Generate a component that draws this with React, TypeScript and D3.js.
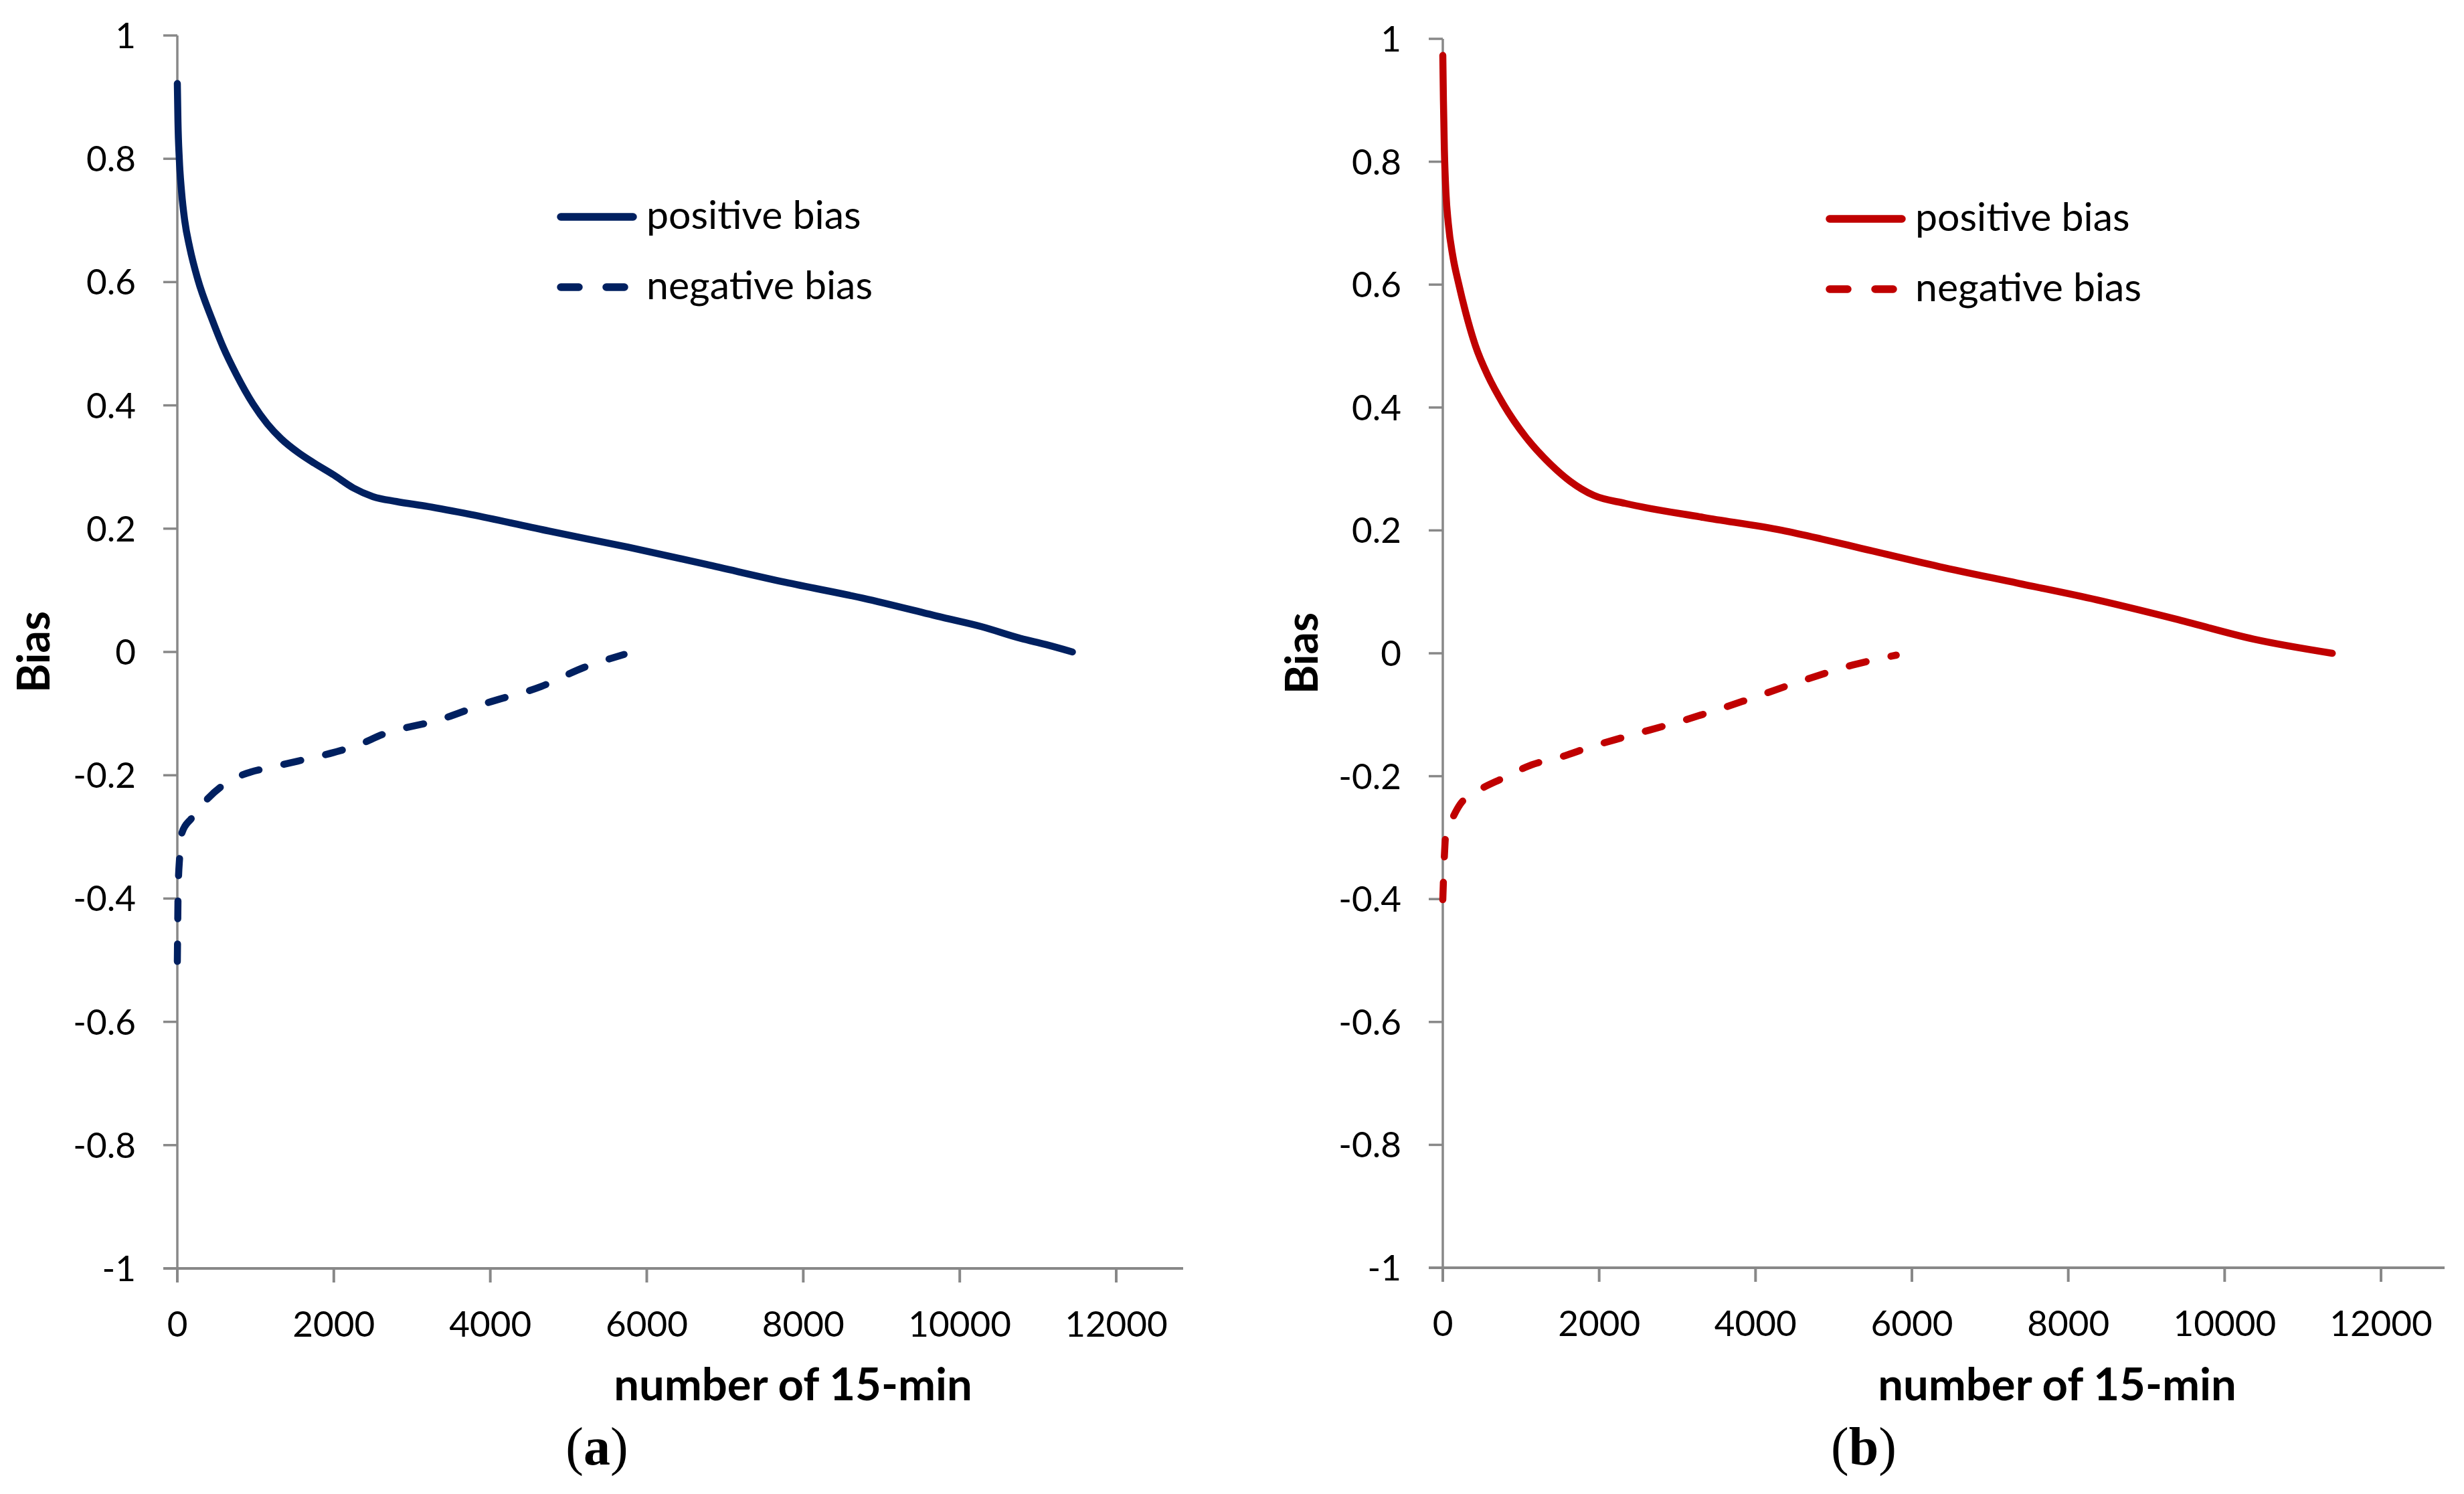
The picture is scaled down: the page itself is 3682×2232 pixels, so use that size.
import React from 'react';
import * as d3 from 'd3';

// x = number of 15-min intervals, y = bias
const leftPositive: [number, number][] = [
  [0, 0.922], [8, 0.86], [25, 0.8], [55, 0.745], [94, 0.7], [160, 0.655], [260, 0.605],
  [442, 0.54], [584, 0.495], [755, 0.45], [969, 0.402], [1150, 0.37], [1326, 0.346],
  [1550, 0.323], [1753, 0.306], [2000, 0.287], [2250, 0.266], [2500, 0.252], [2800, 0.244],
  [3200, 0.236], [3750, 0.223], [4750, 0.196], [5760, 0.17], [6760, 0.142], [7770, 0.113],
  [8770, 0.087], [9780, 0.056], [10280, 0.041], [10780, 0.022], [11100, 0.012], [11440, 0.0],
];
const leftNegative: [number, number][] = [
  [0, -0.502], [5, -0.44], [10, -0.387], [30, -0.332], [60, -0.293], [180, -0.27],
  [380, -0.239], [730, -0.205], [935, -0.195], [1200, -0.187], [1540, -0.177], [2000, -0.163],
  [2290, -0.152], [2640, -0.133], [3350, -0.11], [3950, -0.083], [4650, -0.056],
  [5200, -0.025], [5710, -0.004],
];
const rightPositive: [number, number][] = [
  [0, 0.973], [8, 0.9], [20, 0.82], [40, 0.75], [70, 0.7], [130, 0.645], [200, 0.603],
  [290, 0.556], [419, 0.5], [576, 0.452], [776, 0.405], [1061, 0.352], [1375, 0.308],
  [1628, 0.28], [1930, 0.257], [2332, 0.244], [3337, 0.221], [4342, 0.2], [4844, 0.186],
  [5347, 0.171], [6352, 0.141], [7357, 0.114], [8362, 0.087], [9367, 0.056], [10372, 0.023],
  [11377, 0.0],
];
const rightNegative: [number, number][] = [
  [0, -0.401], [20, -0.331], [40, -0.292], [121, -0.269], [221, -0.246], [422, -0.226],
  [774, -0.203], [1126, -0.182], [1528, -0.168], [1900, -0.152], [2332, -0.136],
  [3085, -0.109], [3839, -0.078], [4543, -0.047], [5246, -0.019], [5800, -0.003],
];

const xTicks = [0, 2000, 4000, 6000, 8000, 10000, 12000];
const yTicks = [-1, -0.8, -0.6, -0.4, -0.2, 0, 0.2, 0.4, 0.6, 0.8, 1];
const seriesNames = ['positive bias', 'negative bias'];
const xTitle = 'number of 15-min';
const yTitle = 'Bias';

const AXIS = '#888888';
const FONT = 'Lato, "Noto Sans", sans-serif';

interface PanelProps {
  x0: number; // pixel of x = 0
  x12: number; // pixel of x = 12000
  xEnd: number; // end of the x axis line
  yTop: number; // pixel of y = 1
  yBottom: number; // pixel of y = -1
  color: string;
  positive: [number, number][];
  negative: [number, number][];
  legendX: number;
  legendY: number;
  titleX: number;
  biasX: number;
  letter: string;
  letterX: number;
}

const Panel: React.FC<PanelProps> = (p) => {
  const x = d3.scaleLinear().domain([0, 12000]).range([p.x0, p.x12]);
  const y = d3.scaleLinear().domain([-1, 1]).range([p.yBottom, p.yTop]);
  const line = d3
    .line<[number, number]>()
    .x((d) => x(d[0]))
    .y((d) => y(d[1]))
    .curve(d3.curveMonotoneX);
  const lw = 10.5;

  return (
    <g>
      {/* y axis */}
      <line x1={x(0)} x2={x(0)} y1={y(1)} y2={y(-1)} stroke={AXIS} strokeWidth={3.5} />
      {yTicks.map((t) => (
        <g key={t}>
          <line x1={x(0) - 21} x2={x(0)} y1={y(t)} y2={y(t)} stroke={AXIS} strokeWidth={3.5} />
          <text
            x={x(0) - 62}
            y={y(t)}
            dy="0.36em"
            textAnchor="end"
            fontFamily={FONT}
            fontSize={53}
          >
            {String(Math.round(t * 10) / 10)}
          </text>
        </g>
      ))}
      {/* x axis */}
      <line x1={x(0) - 21} x2={p.xEnd} y1={y(-1)} y2={y(-1)} stroke={AXIS} strokeWidth={4} />
      {xTicks.map((t) => (
        <g key={t}>
          <line x1={x(t)} x2={x(t)} y1={y(-1)} y2={y(-1) + 21} stroke={AXIS} strokeWidth={4} />
          <text x={x(t)} y={y(-1) + 102} textAnchor="middle" fontFamily={FONT} fontSize={53}>
            {String(t)}
          </text>
        </g>
      ))}

      {/* series */}
      <path
        d={line(p.positive) ?? ''}
        fill="none"
        stroke={p.color}
        strokeWidth={lw}
        strokeLinejoin="round"
        strokeLinecap="round"
      />
      <path
        d={line(p.negative) ?? ''}
        fill="none"
        stroke={p.color}
        strokeWidth={lw}
        strokeDasharray="26 38"
        strokeLinecap="round"
      />

      {/* legend */}
      <line
        x1={p.legendX + 6}
        x2={p.legendX + 114}
        y1={p.legendY}
        y2={p.legendY}
        stroke={p.color}
        strokeWidth={11.5}
        strokeLinecap="round"
      />
      <text x={p.legendX + 134} y={p.legendY} dy="0.31em" fontFamily={FONT} fontSize={59}>
        {seriesNames[0]}
      </text>
      <line
        x1={p.legendX + 6}
        x2={p.legendX + 102}
        y1={p.legendY + 105}
        y2={p.legendY + 105}
        stroke={p.color}
        strokeWidth={11.5}
        strokeDasharray="27 41"
        strokeLinecap="round"
      />
      <text x={p.legendX + 134} y={p.legendY + 105} dy="0.31em" fontFamily={FONT} fontSize={59}>
        {seriesNames[1]}
      </text>

      {/* titles */}
      <text
        transform={`translate(${p.biasX},${y(0)}) rotate(-90)`}
        textAnchor="middle"
        fontFamily={FONT}
        fontWeight="bold"
        fontSize={66}
      >
        {yTitle}
      </text>
      <text x={p.titleX} y={2092} textAnchor="middle" fontFamily={FONT} fontWeight="bold" fontSize={67}>
        {xTitle}
      </text>
      <text x={p.letterX} y={2188} textAnchor="middle" fontFamily='"Liberation Serif", serif' fontSize={80}>
        (<tspan fontWeight="bold">{p.letter}</tspan>)
      </text>
    </g>
  );
};

export default function App() {
  return (
    <svg
      width={3682}
      height={2232}
      viewBox="0 0 3682 2232"
      style={{ position: 'absolute', left: 0, top: 0, background: '#fff' }}
    >
      <rect width={3682} height={2232} fill="#fff" />
      <Panel
        x0={265}
        x12={1668}
        xEnd={1768}
        yTop={53}
        yBottom={1895}
        color="#002060"
        positive={leftPositive}
        negative={leftNegative}
        legendX={832}
        legendY={324}
        titleX={1185}
        biasX={74}
        letter="a"
        letterX={892}
      />
      <Panel
        x0={2156}
        x12={3558}
        xEnd={3653}
        yTop={58}
        yBottom={1894}
        color="#C00000"
        positive={rightPositive}
        negative={rightNegative}
        legendX={2728}
        legendY={327}
        titleX={3074}
        biasX={1969}
        letter="b"
        letterX={2785}
      />
    </svg>
  );
}
